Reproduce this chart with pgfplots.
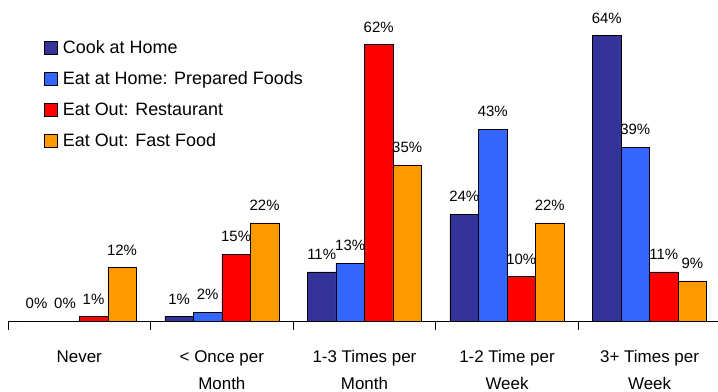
\documentclass[border=0pt]{standalone}
\usepackage{fontspec}
\setmainfont{Liberation Sans}
\usepackage{pgfplots}
\pgfplotsset{compat=1.18}
\definecolor{cdark}{HTML}{333399}
\definecolor{cblue}{HTML}{3366FF}
\definecolor{cred}{HTML}{FF0000}
\definecolor{corange}{HTML}{FF9900}
\begin{document}
\begin{tikzpicture}
\begin{axis}[
  scale only axis,
  width=710bp, height=321bp,
  xmin=-0.5, xmax=4.48, ymin=0, ymax=72,
  axis x line*=bottom, axis y line=none,
  ybar=0pt, bar width=0.2,
  /pgf/number format/assume math mode=true,
  xtick={0,1,2,3,4},
  xticklabels={Never,{< Once per\\Month},{1-3 Times per\\Month},{1-2 Time per\\Week},{3+ Times per\\Week}},
  xticklabel style={align=center, font=\fontsize{17}{27}\selectfont, yshift=-26bp},
  major tick length=0pt,
  extra x ticks={-0.5,0.5,1.5,2.5,3.5},
  extra x tick labels={},
  extra x tick style={major tick length=9bp, tick align=outside, tick style={black, line width=0.8pt}},
  x axis line style={black, line width=0.8pt},
  clip=false,
  nodes near coords={\pgfmathprintnumber{\pgfplotspointmeta}\%},
  every node near coord/.append style={font=\fontsize{15}{18}\selectfont, black, inner sep=2bp, yshift=10bp},
  legend style={at={(rel axis cs:0.051,0.88)}, anchor=north west, draw=none, fill=none,
    font=\fontsize{18}{21}\selectfont, row sep=12.5bp, cells={anchor=west}, inner sep=0pt},
  legend cell align=left,
  legend image code/.code={\draw[#1, draw=black, line width=0.5pt] (0bp,-6.5bp) rectangle (13bp,6.5bp); \path (16bp,0bp);},
]
\addplot[fill=cdark, draw=black, line width=0.5pt] coordinates {(0,0) (1,1) (2,11) (3,24) (4,64)};
\addplot[fill=cblue, draw=black, line width=0.5pt] coordinates {(0,0) (1,2) (2,13) (3,43) (4,39)};
\addplot[fill=cred, draw=black, line width=0.5pt] coordinates {(0,1) (1,15) (2,62) (3,10) (4,11)};
\addplot[fill=corange, draw=black, line width=0.5pt] coordinates {(0,12) (1,22) (2,35) (3,22) (4,9)};
\legend{Cook at Home, Eat at Home: Prepared Foods, Eat Out: Restaurant, Eat Out: Fast Food}
\end{axis}
\pgfresetboundingbox
\path (current axis.south west) ++(-8bp,-71bp) rectangle ++(718bp,392bp);
\end{tikzpicture}
\end{document}
